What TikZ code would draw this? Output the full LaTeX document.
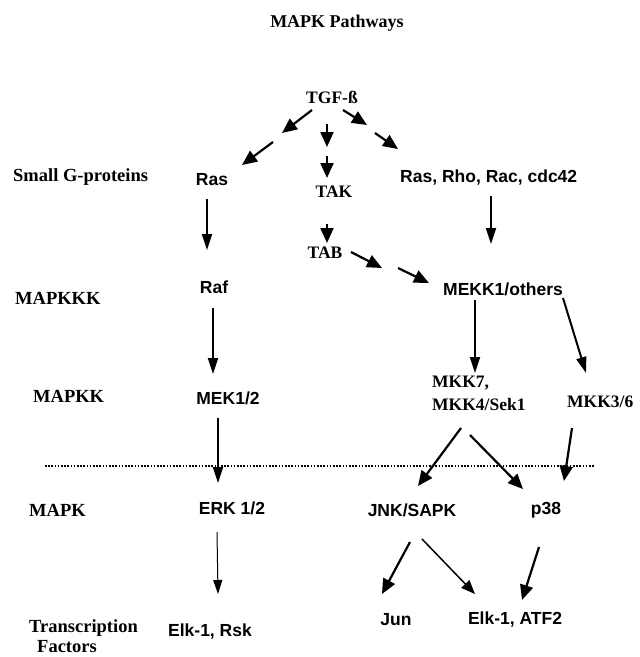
\documentclass[tikz,border=0pt]{standalone}
\usepackage{fontspec}
\setmainfont{Liberation Serif}
\newfontfamily\arialb{Liberation Sans}
\usetikzlibrary{arrows.meta}
\begin{document}
\begin{tikzpicture}[x=1pt,y=-1pt,
  ser/.style={font=\fontsize{17.5}{23}\selectfont\bfseries, inner sep=0pt},
  san/.style={font=\fontsize{17.5}{20}\selectfont\arialb\bfseries, inner sep=0pt},
  lab/.style={font=\fontsize{18.5}{20}\selectfont\bfseries, inner sep=0pt, anchor=west},
  big/.style={line width=2.2pt, -{Triangle[length=15pt,width=13pt]}},
  tall/.style={line width=2pt, -{Triangle[length=16pt,width=10pt]}},
  thinarr/.style={line width=1pt, -{Triangle[length=14pt,width=9pt]}},
  mid/.style={line width=1.5pt, -{Triangle[length=14pt,width=11pt]}},
]
\useasboundingbox (0,0) rectangle (640,657);
\fill[white] (0,0) rectangle (640,657);

% title and row labels
\node[ser, font=\fontsize{18}{20}\selectfont\bfseries] (title) at (337,23) {MAPK Pathways};
\node[lab] (lsg) at (13,177) {Small G-proteins};
\node[lab] (lkkk) at (15,298) {MAPKKK};
\node[lab] (lkk) at (33,396) {MAPKK};
\node[lab] (lk) at (29,510) {MAPK};
\node[lab] (ltf1) at (29,628) {Transcription};
\node[lab] (ltf2) at (37,647) {Factors};

% nodes
\node[ser] (tgf) at (332,97) {TGF-ß};
\node[san] (ras) at (212,180) {Ras};
\node[ser] (tak) at (334,192) {TAK};
\node[san, anchor=west] (rrrc) at (400,178) {Ras, Rho, Rac, cdc42};
\node[ser] (tab) at (325,253) {TAB};
\node[san] (raf) at (214,287) {Raf};
\node[san, anchor=west] (mekk) at (443,289) {MEKK1/others};
\node[san] (mek) at (228,398) {MEK1/2};
\node[ser, align=left, anchor=north west] (mkk74) at (432,376) {MKK7,\\MKK4/Sek1};
\node[ser, anchor=west] (mkk36) at (567,402) {MKK3/6};
\node[san] (erk) at (232,508) {ERK 1/2};
\node[san] (jnk) at (412,510) {JNK/SAPK};
\node[san] (p38) at (546,510) {p38};
\node[san] (elkrsk) at (210,632) {Elk-1, Rsk};
\node[san] (jun) at (396,620) {Jun};
\node[san] (elkatf) at (515,620) {Elk-1, ATF2};

% dotted membrane line
\coordinate (dl) at (45,466);
\coordinate (dr) at (595,466);
\draw[line width=2pt, dash pattern=on 1.6pt off 1.6pt] (dl) -- (dr);

% break points of the split arrows
\coordinate (l1a) at (312,110); \coordinate (l1b) at (282,133);
\coordinate (l2a) at (273,142); \coordinate (l2b) at (242,165);
\coordinate (m1a) at (327,124); \coordinate (m1b) at (327,147);
\coordinate (m2a) at (327,156); \coordinate (m2b) at (327,178);
\coordinate (r1a) at (343,110); \coordinate (r1b) at (367,125);
\coordinate (r2a) at (375,133); \coordinate (r2b) at (398,149);
\coordinate (t1a) at (351,252); \coordinate (t1b) at (382,268);
\coordinate (t2a) at (398,268); \coordinate (t2b) at (429,283);

% TGF-beta arrows
\draw[big] (l1a) -- (l1b);
\draw[big] (l2a) -- (l2b);
\draw[big] (m1a) -- (m1b);
\draw[big] (m2a) -- (m2b);
\draw[big] (r1a) -- (r1b);
\draw[big] (r2a) -- (r2b);

% TAB -> MEKK1
\draw[big] (t1a) -- (t1b);
\draw[big] (t2a) -- (t2b);

% vertical cascade arrows
\coordinate (a1) at (207,199); \coordinate (a2) at (207,250);
\draw[tall] (a1) -- (a2);
\coordinate (b1) at (327,224); \coordinate (b2) at (327,243);
\draw[big] (b1) -- (b2);
\coordinate (c1) at (491,196); \coordinate (c2) at (491,244);
\draw[tall] (c1) -- (c2);
\coordinate (d1) at (213,308); \coordinate (d2) at (213,374);
\draw[tall] (d1) -- (d2);
\coordinate (e1) at (218,418); \coordinate (e2) at (218,483);
\draw[tall] (e1) -- (e2);
\coordinate (f1) at (217,532); \coordinate (f2) at (218,594);
\draw[thinarr] (f1) -- (f2);
\coordinate (g1) at (475,300); \coordinate (g2) at (475,373);
\draw[tall] (g1) -- (g2);
\coordinate (h1) at (563,298); \coordinate (h2) at (586,373);
\draw[tall] (h1) -- (h2);
\coordinate (i1) at (461,428); \coordinate (i2) at (418,486);
\draw[big] (i1) -- (i2);
\coordinate (j1) at (470,435); \coordinate (j2) at (523,489);
\draw[big] (j1) -- (j2);
\coordinate (k1) at (572,428); \coordinate (k2) at (564,481);
\draw[big] (k1) -- (k2);
\coordinate (n1) at (410,542); \coordinate (n2) at (382,594);
\draw[big] (n1) -- (n2);
\coordinate (o1) at (422,539); \coordinate (o2) at (475,594);
\draw[mid] (o1) -- (o2);
\coordinate (q1) at (539,547); \coordinate (q2) at (522,600);
\draw[big] (q1) -- (q2);
\end{tikzpicture}
\end{document}
